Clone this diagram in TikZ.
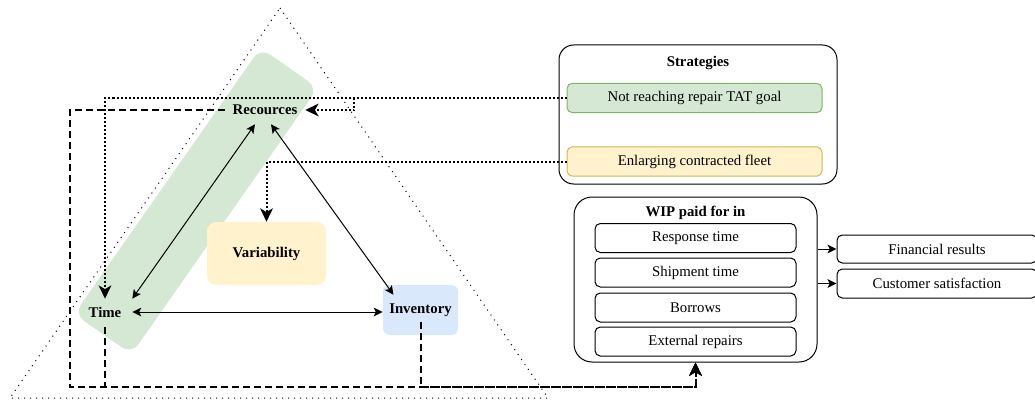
\documentclass[tikz,border=0pt]{standalone}
\usepackage{fontspec}
\setmainfont{Liberation Serif}
\usetikzlibrary{arrows.meta,calc}
\definecolor{gfill}{HTML}{D5E8D4}
\definecolor{gline}{HTML}{82B366}
\definecolor{yfill}{HTML}{FFF2CC}
\definecolor{yline}{HTML}{D6B656}
\definecolor{bfill}{HTML}{DAE8FC}

\begin{document}
\begin{tikzpicture}[x=0.75pt,y=-0.75pt,
  every node/.style={font=\fontsize{11.1}{13}\selectfont, inner sep=0pt},
  bold/.style={font=\fontsize{11.1}{13}\selectfont\bfseries},
  biarrow/.style={line width=0.75pt, {Stealth[length=6.75pt,width=6.5pt,inset=1.6pt]}-{Stealth[length=6.75pt,width=6.5pt,inset=1.6pt]}},
  onearrow/.style={line width=0.75pt, -{Stealth[length=6.75pt,width=6.5pt,inset=1.6pt]}},
  dashline/.style={line width=1.5pt, dash pattern=on 5.25pt off 3pt, -{Stealth[length=10pt,width=9.5pt,inset=2.8pt]}},
  dotline/.style={line width=1.5pt, dash pattern=on 1.5pt off 1.5pt, -{Stealth[length=10pt,width=9.5pt,inset=2.8pt]}},
  tridot/.style={line width=0.75pt, dash pattern=on 0.75pt off 3.75pt},
  outerbox/.style={draw, line width=0.75pt, rounded corners=11pt},
  itembox/.style={draw, line width=0.75pt, rounded corners=4pt, minimum width=150.75pt, minimum height=21.75pt},
  sidebox/.style={draw, line width=0.75pt, rounded corners=4pt, minimum width=150pt, minimum height=21pt},
  stratbox/.style={draw, line width=0.75pt, rounded corners=4pt, minimum width=191.25pt, minimum height=22pt},
]
\useasboundingbox (0,0) rectangle (1035,403);
\clip (0,0) rectangle (1035,403);

% shaded band behind the resources-time side
\node[fill=gfill, rounded corners=9pt, rotate=55,
      minimum width=243.75pt, minimum height=52.5pt] (band) at (196,201) {};

% outer dotted triangle
\draw[tridot] (280,8) -- (548,398) -- (10,398) -- cycle;

% triangle corners
\node[fill=yfill, rounded corners=7pt, minimum width=89.25pt, minimum height=47.25pt,
      bold] (var) at (266.5,253.5) {Variability};
\node[fill=bfill, rounded corners=5pt, minimum width=56.25pt, minimum height=37.5pt,
      bold] (inv) at (420.5,310) {Inventory};
\node[bold, minimum width=60pt, minimum height=21pt] (rec) at (265,110) {Recources};
\node[bold, minimum width=40.5pt, minimum height=19.5pt] (time) at (105,312) {Time};

% strategies panel
\node[outerbox, minimum width=208.5pt, minimum height=104.25pt] (strat) at (698,114.5) {};
\node[bold] (strattitle) at (698,63) {Strategies};
\node[stratbox, fill=gfill, draw=gline] (sg) at (694.5,98) {Not reaching repair TAT goal};
\node[stratbox, fill=yfill, draw=yline] (sy) at (694.5,161.5) {Enlarging contracted fleet};

% WIP panel
\node[outerbox, rounded corners=13.5pt, minimum width=182.25pt, minimum height=123.75pt] (wip) at (695.5,279.5) {};
\node[bold] (wiptitle) at (695.5,213) {WIP paid for in};
\node[itembox] (resp) at (695.5,238) {Response time};
\node[itembox] (ship) at (695.5,272.5) {Shipment time};
\node[itembox] (borr) at (695.5,307.5) {Borrows};
\node[itembox] (extr) at (695.5,341.5) {External repairs};

% outcomes
\node[sidebox] (fin) at (937,249) {Financial results};
\node[sidebox, minimum height=21.75pt] (cust) at (937,283.5) {Customer satisfaction};
\draw[onearrow] (wip.east |- fin.west) -- (fin.west);
\draw[onearrow] (wip.east |- cust.west) -- (cust.west);

% relations inside the triangle
\draw[biarrow] (time.north east) -- ([xshift=-7.5pt]rec.south);
\draw[biarrow] ([xshift=4.5pt]rec.south) -- ([xshift=-20.25pt,yshift=-7.5pt]inv.north);
\draw[biarrow] (time.east) -- (time.east -| inv.west);

% strategy influences
\coordinate (hk) at (354,110);
\draw[dotline] (sg.west) -| (hk) -- (rec.east);
\draw[dotline] (sg.west) -| (time.north);
\draw[dotline] (sy.west) -| (var.north);

% flows into WIP (time flow phased to coincide with the resources flow)
\coordinate (lft) at (70,387);
\draw[dashline] (rec.west) -| (lft) -| (wip.south);
\draw[dashline, dash phase=6.75pt] (time.south) -- (time.south |- lft) -| (wip.south);
\draw[dashline] ($(inv.south)+(0,-13)$) -- (inv.south |- lft) -| (wip.south);
\end{tikzpicture}
\end{document}
